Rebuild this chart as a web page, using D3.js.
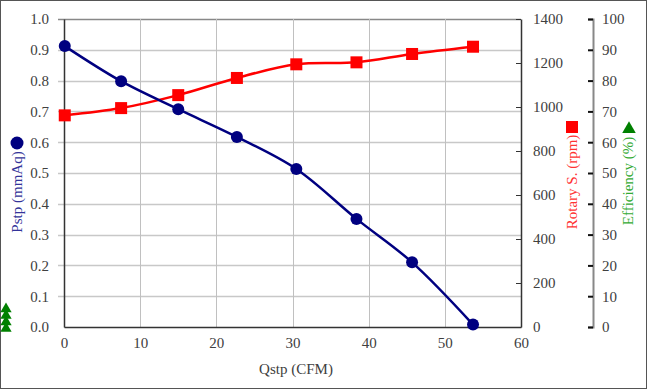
<!DOCTYPE html>
<html>
<head>
<meta charset="utf-8">
<script src="https://cdn.jsdelivr.net/npm/d3@7"></script>
<style>
  body { margin: 0; background: #fff; }
  svg { display: block; }
  svg text { font-family: "Liberation Serif", "Times New Roman", "DejaVu Serif", serif; }
</style>
</head>
<body>
<svg width="647" height="390"></svg>
<script>
var width = 647;
var height = 390;

// data
var qstp = [0.1, 7.5, 15.0, 22.7, 30.5, 38.4, 45.7, 53.7];
var pstp = [0.912, 0.798, 0.707, 0.617, 0.513, 0.351, 0.210, 0.008];
var rpm = [962, 995, 1054, 1132, 1194, 1203, 1241, 1274];
var effStack = [0, 1, 2, 3]; // efficiency markers piled up at the left edge

var xTicks = [0, 10, 20, 30, 40, 50, 60];
var pTicks = [0, 0.1, 0.2, 0.3, 0.4, 0.5, 0.6, 0.7, 0.8, 0.9, 1.0];
var rTicks = [0, 200, 400, 600, 800, 1000, 1200, 1400];
var eTicks = [0, 10, 20, 30, 40, 50, 60, 70, 80, 90, 100];

var plot = { left: 64, right: 521, top: 19, bottom: 327 };
var effAxisX = 593;
var textColor = "#404040";
var serif = "'Liberation Serif', 'Times New Roman', serif";

var svg = d3.select("svg");

svg.append("rect")
  .attr("x", 0.5).attr("y", 0.5)
  .attr("width", width - 1).attr("height", height - 2)
  .attr("fill", "#fff")
  .attr("stroke", "#555")
  .attr("stroke-width", 1);

var x = d3.scaleLinear().domain([0, 60]).range([plot.left, plot.right]);
var yP = d3.scaleLinear().domain([0, 1]).range([plot.bottom, plot.top]);
var yR = d3.scaleLinear().domain([0, 1400]).range([plot.bottom, plot.top]);
var yE = d3.scaleLinear().domain([0, 100]).range([plot.bottom, plot.top]);

// gridlines
svg.append("g")
  .selectAll("line")
  .data(pTicks.slice(1))
  .enter()
  .append("line")
    .attr("x1", plot.left - 6)
    .attr("x2", plot.right)
    .attr("y1", d => Math.round(yP(d)) + 0.5)
    .attr("y2", d => Math.round(yP(d)) + 0.5)
    .attr("stroke", (d, i) => i === pTicks.length - 2 ? "#888" : "#c8c8c8")
    .attr("stroke-width", 1.5);

svg.append("g")
  .selectAll("line")
  .data(xTicks.slice(1, -1))
  .enter()
  .append("line")
    .attr("x1", d => Math.round(x(d)) + 0.5)
    .attr("x2", d => Math.round(x(d)) + 0.5)
    .attr("y1", plot.top)
    .attr("y2", plot.bottom)
    .attr("stroke", "#c0c0c0")
    .attr("stroke-width", 1);

// axes
function styleAxis(g) {
  g.attr("font-family", serif).attr("font-size", 15);
  g.selectAll("text")
    .attr("fill", textColor)
    .style("font-family", serif)
    .style("font-size", "15px");
  g.selectAll("line").attr("stroke", "#333");
}

var xAxis = svg.append("g")
  .attr("transform", "translate(0," + plot.bottom + ")")
  .call(d3.axisBottom(x).tickValues(xTicks).tickSize(0).tickPadding(10).tickFormat(d3.format("d")));
xAxis.select(".domain").attr("stroke", "#333").attr("stroke-width", 1.5);
styleAxis(xAxis);

var pAxis = svg.append("g")
  .attr("transform", "translate(" + plot.left + ",0)")
  .call(d3.axisLeft(yP).tickValues(pTicks).tickSize(0).tickPadding(15).tickFormat(d3.format(".1f")));
pAxis.select(".domain").attr("stroke", "#333").attr("stroke-width", 1.5);
styleAxis(pAxis);

var rAxis = svg.append("g")
  .attr("transform", "translate(" + plot.right + ",0)")
  .call(d3.axisRight(yR).tickValues(rTicks).tickSizeInner(-5).tickSizeOuter(0).tickPadding(12).tickFormat(d3.format("d")));
rAxis.select(".domain").attr("stroke", "#333").attr("stroke-width", 1.5);
styleAxis(rAxis);

var eAxis = svg.append("g")
  .attr("transform", "translate(" + effAxisX + ",0)")
  .call(d3.axisRight(yE).tickValues(eTicks).tickSizeInner(-5).tickSizeOuter(-5).tickPadding(9).tickFormat(d3.format("d")));
eAxis.select(".domain").attr("stroke", "#888").attr("stroke-width", 2);
styleAxis(eAxis);
eAxis.selectAll(".tick line").attr("stroke-width", 2).attr("stroke", "#111");

// series
var pData = qstp.map((q, i) => ({ x: q, y: pstp[i] }));
var rData = qstp.map((q, i) => ({ x: q, y: rpm[i] }));

var lineP = d3.line().x(d => x(d.x)).y(d => yP(d.y)).curve(d3.curveCatmullRom.alpha(0.5));
var lineR = d3.line().x(d => x(d.x)).y(d => yR(d.y)).curve(d3.curveCatmullRom.alpha(0.5));

svg.append("path")
  .datum(rData)
  .attr("d", lineR)
  .attr("fill", "none")
  .attr("stroke", "#ff0000")
  .attr("stroke-width", 2.5);

svg.append("g")
  .selectAll("rect")
  .data(rData)
  .enter()
  .append("rect")
    .attr("x", d => x(d.x) - 6)
    .attr("y", d => yR(d.y) - 6)
    .attr("width", 12)
    .attr("height", 12)
    .attr("fill", "#ff0000");

svg.append("path")
  .datum(pData)
  .attr("d", lineP)
  .attr("fill", "none")
  .attr("stroke", "#000080")
  .attr("stroke-width", 2.5);

svg.append("g")
  .selectAll("circle")
  .data(pData)
  .enter()
  .append("circle")
    .attr("cx", d => x(d.x))
    .attr("cy", d => yP(d.y))
    .attr("r", 6)
    .attr("fill", "#000080");

// efficiency markers piled at left edge
svg.append("g")
  .selectAll("path")
  .data(effStack)
  .enter()
  .append("path")
    .attr("d", d3.symbol().type(d3.symbolTriangle).size(55))
    .attr("transform", d => "translate(6," + (309 + d * 6.5) + ")")
    .attr("fill", "#008000");

// axis titles + legend glyphs
function title(sel, color) {
  return sel.attr("text-anchor", "middle")
    .attr("fill", color)
    .style("font-family", serif)
    .style("font-size", "15px");
}

svg.append("text")
  .attr("x", 296).attr("y", 374)
  .call(title, textColor)
  .text("Qstp (CFM)");

svg.append("circle").attr("cx", 17).attr("cy", 143).attr("r", 6.5).attr("fill", "#000080");
svg.append("text")
  .attr("transform", "translate(22,192) rotate(-90)")
  .call(title, "#333399")
  .text("Pstp (mmAq)");

svg.append("rect").attr("x", 566).attr("y", 121).attr("width", 12).attr("height", 12).attr("fill", "#ff0000");
svg.append("text")
  .attr("transform", "translate(577,182) rotate(-90)")
  .call(title, "#ff3333")
  .text("Rotary S. (rpm)");

svg.append("path")
  .attr("d", d3.symbol().type(d3.symbolTriangle).size(80))
  .attr("transform", "translate(629,129)")
  .attr("fill", "#008000");
svg.append("text")
  .attr("transform", "translate(633,181) rotate(-90)")
  .call(title, "#33aa33")
  .text("Efficiency (%)");
</script>
</body>
</html>
